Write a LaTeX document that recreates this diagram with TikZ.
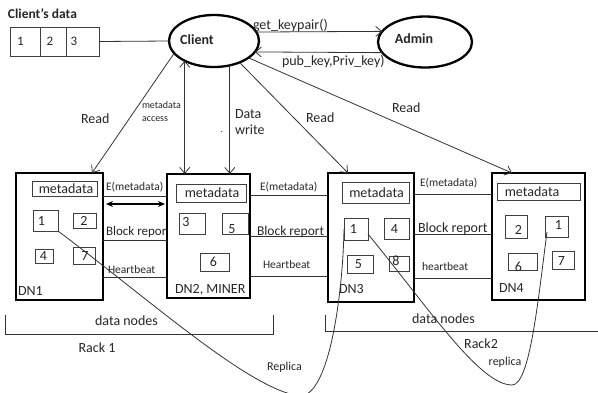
\documentclass[tikz,border=0pt]{standalone}
\usepackage{fontspec}
\setmainfont{Carlito}
\usetikzlibrary{arrows.meta,shapes.geometric,calc}

\begin{document}
\begin{tikzpicture}[x=1pt,y=-1pt,
  every node/.style={inner sep=0pt,outer sep=0pt,text=black!85},
  txt/.style={font=\fontsize{#1pt}{#1pt}\selectfont},
  txt/.default=14,
  conn/.style={draw=black!80,line width=0.8pt},
  openarrow/.style={-{Straight Barb[length=6pt,width=10pt]}},
  dnbox/.style={draw=black,line width=2.6pt,rectangle},
  cellbox/.style={draw=black!75,line width=1pt,rectangle},
  peer/.style={ellipse,draw=black,line width=2.3pt}]
\useasboundingbox (0,0) rectangle (598,392);

% ---- client's data strip ----
\node[txt=13.5,anchor=base west,font=\fontsize{13.5pt}{13.5pt}\selectfont\bfseries] (cdlabel) at (8,18.5) {Client's data};
\node[cellbox,minimum width=30pt,minimum height=29pt] (cd1) at (25,41.5) {};
\node[cellbox,minimum width=26pt,minimum height=29pt] (cd2) at (53,41.5) {};
\node[cellbox,minimum width=33pt,minimum height=29pt] (cd3) at (82.5,41.5) {};
\node[txt=13] (cd1t) at (20.5,41) {1};
\node[txt=13] (cd2t) at (50,41) {2};
\node[txt=13] (cd3t) at (74,41) {3};

% ---- client and admin ----
\node[peer,minimum width=90pt,minimum height=52pt] (client) at (214,41) {};
\node[font=\fontsize{14pt}{14pt}\selectfont\bfseries] (clienttxt) at (197,40) {Client};
\node[peer,minimum width=94pt,minimum height=51pt] (admin) at (425,42) {};
\node[font=\fontsize{14pt}{14pt}\selectfont\bfseries] (admintxt) at (414,39) {Admin};

\draw[conn] (cd3.east) -- (client.west);
\draw[conn,openarrow] (client.12) -- (admin.166);
\node[txt,anchor=base west] (kp) at (253,29.5) {get\_keypair()};
\draw[conn,openarrow] (admin.194) -- (client.-15);
\node[txt,anchor=base west] (pk) at (282,65) {pub\_key,Priv\_key)};

% ---- data nodes ----
\node[dnbox,minimum width=87pt,minimum height=127pt] (dn1) at (59.5,236.5) {};
\node[dnbox,minimum width=83pt,minimum height=124pt] (dn2) at (208.5,236) {};
\node[dnbox,minimum width=86pt,minimum height=129pt] (dn3) at (371,237.5) {};
\node[dnbox,minimum width=93pt,minimum height=127pt] (dn4) at (538.5,236.5) {};

% DN1 contents
\node[cellbox,minimum width=65pt,minimum height=15pt] (dn1m) at (64.5,188.5) {};
\node[txt] (dn1mt) at (66,188.5) {metadata};
\node[cellbox,minimum width=25pt,minimum height=21pt] (dn1b1) at (45.5,220.5) {};
\node[cellbox,minimum width=23pt,minimum height=15pt] (dn1b2) at (84.5,220.5) {};
\node[cellbox,minimum width=18pt,minimum height=14pt] (dn1b4) at (44,256) {};
\node[cellbox,minimum width=22pt,minimum height=17pt] (dn1b7) at (84,255.5) {};
\node[txt] (dn1t1) at (41.5,221) {1};
\node[txt] (dn1t2) at (84,220.5) {2};
\node[txt] (dn1t4) at (43.5,255.5) {4};
\node[txt] (dn1t7) at (85,256) {7};
\node[txt,anchor=base west] (dn1lbl) at (18,295.5) {DN1};

% DN2 contents
\node[cellbox,minimum width=70pt,minimum height=18pt] (dn2m) at (211,193) {};
\node[txt] (dn2mt) at (212,193) {metadata};
\node[cellbox,minimum width=26pt,minimum height=21pt] (dn2b3) at (192,223.5) {};
\node[cellbox,minimum width=26pt,minimum height=21pt] (dn2b5) at (235,223.5) {};
\node[cellbox,minimum width=29pt,minimum height=18pt] (dn2b6) at (214.5,262) {};
\node[txt] (dn2t3) at (186,222) {3};
\node[txt] (dn2t5) at (232,229) {5};
\node[txt] (dn2t6) at (213.5,262) {6};
\node[txt,anchor=base west] (dn2lbl) at (175,293) {DN2, MINER};

% DN3 contents
\node[cellbox,minimum width=67pt,minimum height=21pt] (dn3m) at (375.5,192.5) {};
\node[txt] (dn3mt) at (376.5,192.5) {metadata};
\node[cellbox,minimum width=24pt,minimum height=22pt] (dn3b1) at (356,229) {};
\node[cellbox,minimum width=25pt,minimum height=21pt] (dn3b4) at (396.5,228.5) {};
\node[cellbox,minimum width=26pt,minimum height=18pt] (dn3b5) at (360,264) {};
\node[cellbox,minimum width=20pt,minimum height=15pt] (dn3b8) at (399,263.5) {};
\node[txt] (dn3t1) at (353.5,229) {1};
\node[txt] (dn3t4) at (394.5,228.5) {4};
\node[txt] (dn3t5) at (358.5,264) {5};
\node[txt] (dn3t8) at (396,261) {8};
\node[txt,anchor=base west] (dn3lbl) at (339,293) {DN3};

% DN4 contents
\node[cellbox,minimum width=83pt,minimum height=17pt] (dn4m) at (538.5,191.5) {};
\node[txt] (dn4mt) at (532,192) {metadata};
\node[cellbox,minimum width=22pt,minimum height=23pt] (dn4b2) at (516,226.5) {};
\node[cellbox,minimum width=23pt,minimum height=21pt] (dn4b1) at (556.5,226.5) {};
\node[cellbox,minimum width=29pt,minimum height=17pt] (dn4b6) at (522.5,261.5) {};
\node[cellbox,minimum width=22pt,minimum height=18pt] (dn4b7) at (563,260) {};
\node[txt] (dn4t2) at (518.5,230) {2};
\node[txt] (dn4t1) at (558.5,224.5) {1};
\node[txt] (dn4t6) at (518.5,266.5) {6};
\node[txt] (dn4t7) at (561.5,261) {7};
\node[txt,anchor=base west] (dn4lbl) at (499,292) {DN4};

% ---- client to data node traffic ----
\draw[conn,openarrow] (client.197) -- ($(dn1.north east)+(-11,0)$);
\node[txt,anchor=base west] (rd1) at (81,123.5) {Read};
\draw[conn,{Straight Barb[length=6pt,width=10pt]}-{Straight Barb[length=6pt,width=10pt]}]
  (client.214.6) -- (client.214.6 |- dn2.north);
\node[txt=10,anchor=base west] (ma1) at (142,108) {metadata};
\node[txt=10,anchor=base west] (ma2) at (142,121) {access};
\draw[conn,openarrow] (client.303.4) -- (client.303.4 |- dn2.north);
\node[txt,anchor=base west] (dw1) at (235,118) {Data};
\node[txt,anchor=base west] (dw2) at (235,134) {write};
\node[txt=10] (dot) at (222,132) {.};
\draw[conn,openarrow] (client.320) -- ($(dn3.north west)+(20,0)$);
\node[txt,anchor=base west] (rd3) at (306,122.5) {Read};
\draw[conn,openarrow] (client.334) -- ($(dn4.north west)+(20,0)$);
\node[txt,anchor=base west] (rd4) at (392,112.5) {Read};

% ---- links between data nodes ----
\coordinate (e12) at (0,196);   \coordinate (x12) at (0,204);
\coordinate (b12) at (0,240);   \coordinate (h12) at (0,277);
\coordinate (e23) at (0,195);   \coordinate (b23) at (0,236);
\coordinate (h23) at (0,276);
\coordinate (e34) at (0,194);   \coordinate (b34) at (0,234);
\coordinate (h34) at (0,278);

\draw[conn] (dn1.east |- e12) -- (dn2.west |- e12);
\draw[line width=1.4pt,{Stealth[length=7pt,width=6pt]}-{Stealth[length=7pt,width=6pt]}]
  ($(dn1.east |- x12)+(3,0)$) -- ($(dn2.west |- x12)+(-2,0)$);
\draw[conn] (dn1.east |- b12) -- (dn2.west |- b12);
\draw[conn] (dn1.east |- h12) -- (dn2.west |- h12);
\node[txt=11.5,anchor=base west] (l12e) at (106,190.5) {E(metadata)};
\node[txt=13,anchor=base west] (l12b) at (106,235) {Block repor};
\node[txt=11.5,anchor=base west] (l12h) at (108,273.5) {Heartbeat};

\draw[conn] (dn2.east |- e23) -- (dn3.west |- e23);
\draw[conn] (dn2.east |- b23) -- (dn3.west |- b23);
\draw[conn] (dn2.east |- h23) -- (dn3.west |- h23);
\node[txt=11.5,anchor=base west] (l23e) at (260,190) {E(metadata)};
\node[txt=13.5,anchor=base west] (l23b) at (257,235) {Block report};
\node[txt=11.5,anchor=base west] (l23h) at (263,268) {Heartbeat};

\draw[conn] (dn3.east |- e34) -- (dn4.west |- e34);
\draw[conn] (dn3.east |- b34) -- (dn4.west |- b34);
\draw[conn] (dn3.east |- h34) -- (dn4.west |- h34);
\node[txt=11.5,anchor=base west] (l34e) at (420,186.5) {E(metadata)};
\node[txt=14,anchor=base west] (l34b) at (418,232) {Block report};
\node[txt=11.5,anchor=base west] (l34h) at (422,270) {heartbeat};

% ---- racks ----
\coordinate (r1a) at (5,315);  \coordinate (r1b) at (273,315);
\coordinate (r2a) at (325,315); \coordinate (r2e) at (598,331);
\draw[conn] (r1a) -- ++(0,19) -| (r1b);
\draw[conn] (r2a) -- (r2a |- r2e) -- (r2e);
\node[txt] (dnodes1) at (126.5,321) {data nodes};
\node[txt] (rack1) at (97,347.5) {Rack 1};
\node[txt] (dnodes2) at (443.5,319) {data nodes};
\node[txt] (rack2) at (481,344) {Rack2};

% ---- replica placement ----
\begin{scope}
\clip (0,0) rectangle (598,392);
\draw[conn] (dn1b1.south east) .. controls (150,300) and (250,390) .. (300,396)
  .. controls (330,396) and (343,290) .. (dn3b1.west);
\draw[conn] ($(dn3b1.east)+(0,5)$) .. controls (430,310) and (480,385) .. (512,385)
  .. controls (530,385) and (538,300) .. ($(dn4b1.south west)+(2,-5)$);
\end{scope}
\node[txt=12,anchor=base] (rep1) at (284.5,370) {Replica};
\node[txt=12,anchor=base] (rep2) at (505,365) {replica};
\end{tikzpicture}
\end{document}
